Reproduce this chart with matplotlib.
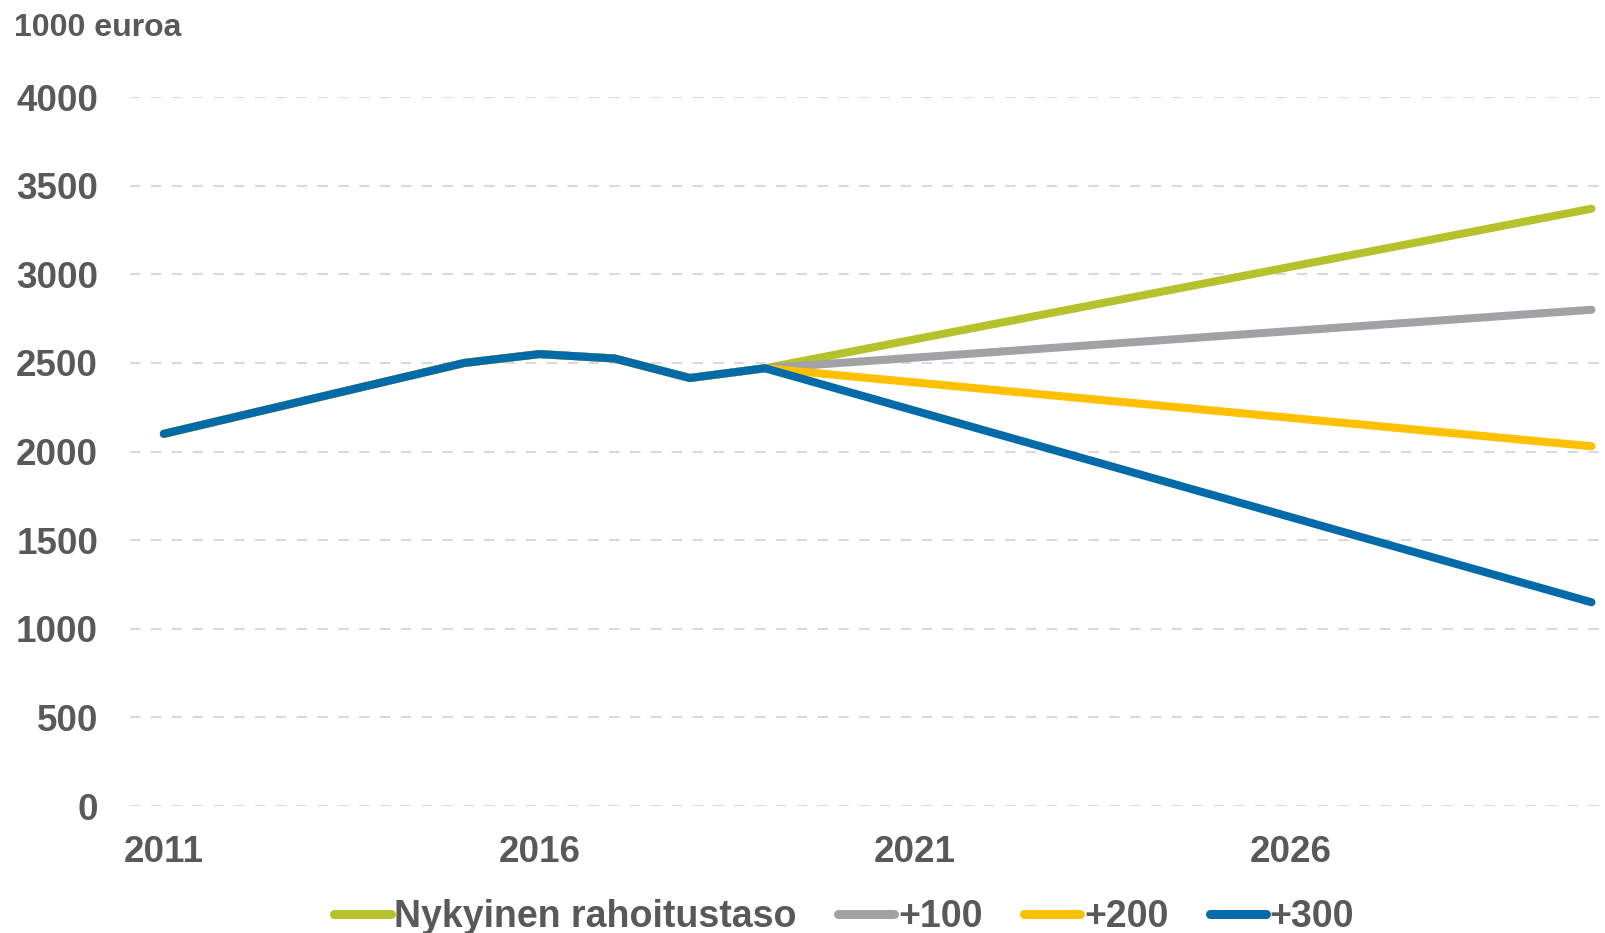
import matplotlib.pyplot as plt

years = [2011, 2015, 2016, 2017, 2018, 2019, 2030]
common = [2100, 2500, 2550, 2525, 2415, 2470]
nykyinen = common + [3370]
plus100 = common + [2800]
plus200 = common + [2030]
plus300 = common + [1150]

labels = ["Nykyinen rahoitustaso", "+100", "+200", "+300"]
colors = ["#b5c22c", "#a2a2a4", "#ffc000", "#006ba8"]
xticks = [2011, 2016, 2021, 2026]
yticks = list(range(0, 4001, 500))

txt = "#595959"
plt.rcParams['font.family'] = ['Liberation Sans', 'DejaVu Sans']

fig = plt.figure(figsize=(16.05, 9.33), dpi=100)
ax = fig.add_axes([0.081, 0.136, 0.919, 0.76])

for series, lab, col in zip([nykyinen, plus100, plus200, plus300], labels, colors):
    ax.plot(years, series, color=col, lw=5.8, solid_capstyle='round',
            solid_joinstyle='miter', label=lab, clip_on=False)

ax.set_xlim(2010.55, 2030.18)
ax.set_ylim(0, 4000)
ax.set_xticks(xticks)
ax.set_yticks(yticks)
ax.tick_params(length=0, labelsize=26.5, labelcolor=txt)
ax.tick_params(axis='y', pad=23)
ax.tick_params(axis='x', pad=21)
for t in ax.get_xticklabels() + ax.get_yticklabels():
    t.set_fontweight('bold')
ax.yaxis.grid(True, color='#d9d9d9', linestyle=(0, (5, 5)), lw=1.5)
ax.set_axisbelow(True)
for s in ax.spines.values():
    s.set_visible(False)

fig.text(0.009, 0.970, "1000 euroa", fontsize=23, fontweight='bold',
         color=txt, va='center', ha='left')

leg = fig.legend(loc='center', bbox_to_anchor=(0.526, 0.017), ncol=4,
                 frameon=False, handlelength=1.5, handletextpad=0.1,
                 columnspacing=1.1, prop={'size': 27, 'weight': 'bold'})
for t in leg.get_texts():
    t.set_color(txt)
for h in leg.legend_handles:
    h.set_linewidth(6.5)

fig.savefig("out.png", dpi=100)
